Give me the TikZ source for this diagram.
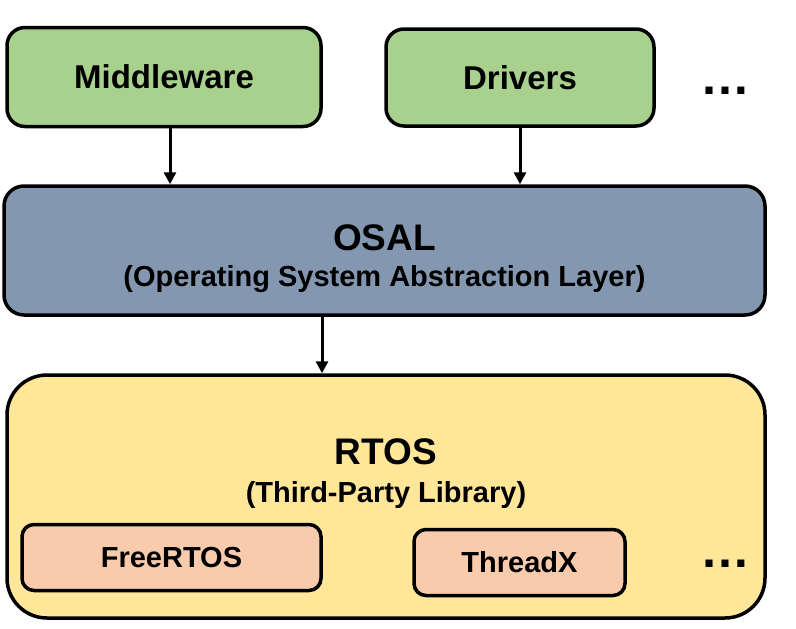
\documentclass[tikz,border=0pt]{standalone}
\usepackage{fontspec}
\setmainfont{Liberation Sans}
\usetikzlibrary{arrows.meta,positioning}

\definecolor{mwgreen}{HTML}{A9D18E}
\definecolor{osalblue}{HTML}{8497B0}
\definecolor{rtosyellow}{HTML}{FFE699}
\definecolor{portsalmon}{HTML}{F8CBAD}

\begin{document}
\begin{tikzpicture}[x=1pt, y=-1pt,
    layer/.style={draw=black, line width=3.5pt, rounded corners=18pt, inner sep=0pt,
                  font=\bfseries\fontsize{33}{40}\selectfont, align=center},
    port/.style={layer, rounded corners=12pt, font=\bfseries\fontsize{29}{34}\selectfont},
    more/.style={font=\bfseries\fontsize{50}{50}\selectfont, inner sep=0pt},
    link/.style={line width=3pt, -{Triangle[length=12pt,width=12pt]}}]
  \useasboundingbox (0,0) rectangle (796,629);
  % upper layer
  \node[layer, fill=mwgreen, minimum width=314pt, minimum height=99pt] (mw) at (164,77) {Middleware};
  \node[layer, fill=mwgreen, minimum width=268pt, minimum height=97pt] (drv) at (520,77.5) {Drivers};
  \node[more] (dots1) at (725,91) {…};
  % abstraction layer
  \node[layer, fill=osalblue, minimum width=761pt, minimum height=129pt, rounded corners=20pt] (osal) at (384.5,250.5)
    {\rule{0pt}{42pt}\fontsize{37}{44}\selectfont OSAL\\[-4pt] \fontsize{29}{34}\selectfont (Operating System Abstraction Layer)};
  % rtos layer
  \node[layer, fill=rtosyellow, minimum width=758pt, minimum height=243pt, rounded corners=40pt] (rtos) at (386,496.5) {};
  \node[align=center, font=\bfseries\fontsize{37}{44}\selectfont] (rtostitle) at (386,474)
    {RTOS\\[-6pt] \fontsize{29}{34}\selectfont (Third-Party Library)};
  \node[port, fill=portsalmon, minimum width=299pt, minimum height=66pt] (frt) at (171.5,557.5) {FreeRTOS};
  \node[port, fill=portsalmon, minimum width=211pt, minimum height=66pt] (tx) at (519.5,562.5) {ThreadX};
  \node[more] (dots2) at (725,564) {…};
  % connectors
  \draw[link] ([xshift=6pt]mw.south) -- ([xshift=6pt]mw.south |- osal.north);
  \draw[link] (drv.south) -- (drv.south |- osal.north);
  \draw[link] ([xshift=-62.5pt]osal.south) -- ([xshift=-62.5pt]osal.south |- rtos.north);
\end{tikzpicture}
\end{document}
